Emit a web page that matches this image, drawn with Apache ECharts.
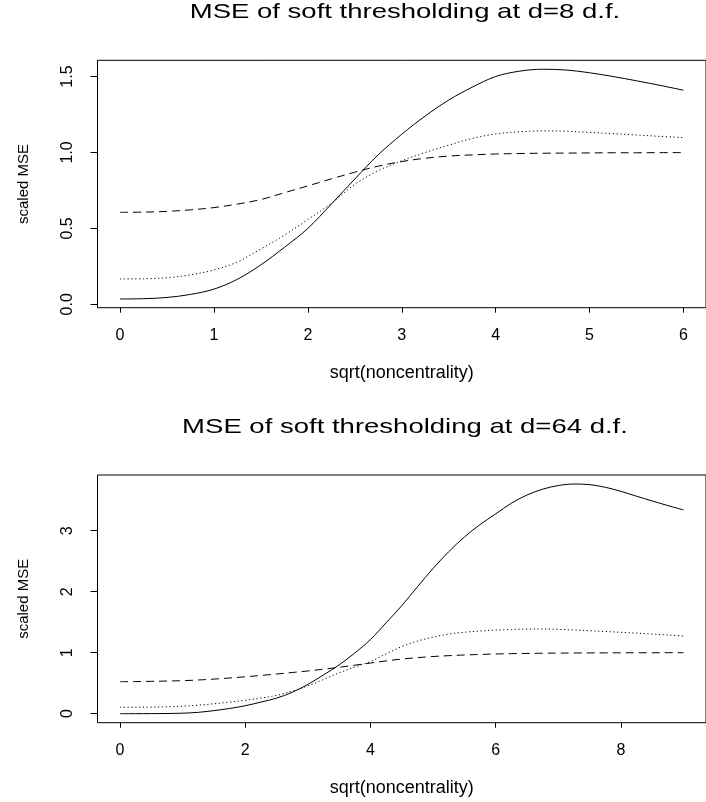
<!DOCTYPE html>
<html>
<head>
<meta charset="utf-8">
<script src="https://cdn.jsdelivr.net/npm/echarts@6/dist/echarts.min.js"></script>
<style>
  html, body { margin: 0; padding: 0; background: #fff; }
  #main { width: 706px; height: 802px; }
</style>
</head>
<body>
<div id="main"></div>
<script>
// top panel, d = 8
const topX = [0, 0.25, 0.5, 0.75, 1, 1.25, 1.5, 1.75, 2, 2.25, 2.5, 2.75, 3, 3.25, 3.5, 3.75, 4, 4.25, 4.5, 4.75, 5, 5.25, 5.5, 5.75, 6]
const topSolid = [0.035, 0.037, 0.045, 0.065, 0.100, 0.165, 0.260, 0.375, 0.500, 0.660, 0.825, 0.985, 1.120, 1.240, 1.345, 1.430, 1.500, 1.535, 1.548, 1.543, 1.525, 1.500, 1.472, 1.442, 1.410]
const topDotted = [0.167, 0.168, 0.175, 0.194, 0.226, 0.279, 0.365, 0.455, 0.558, 0.665, 0.790, 0.880, 0.945, 1.000, 1.048, 1.092, 1.122, 1.136, 1.142, 1.140, 1.132, 1.124, 1.115, 1.106, 1.098]
const topDashed = [0.606, 0.607, 0.612, 0.622, 0.637, 0.660, 0.690, 0.735, 0.780, 0.826, 0.870, 0.910, 0.940, 0.962, 0.976, 0.984, 0.990, 0.993, 0.995, 0.996, 0.997, 0.998, 0.998, 0.999, 0.999]
const topXTicks = [0, 1, 2, 3, 4, 5, 6]
const topYTicks = [0, 0.5, 1, 1.5]

// bottom panel, d = 64
const botX = [0, 0.25, 0.5, 0.75, 1, 1.25, 1.5, 1.75, 2, 2.25, 2.5, 2.75, 3, 3.25, 3.5, 3.75, 4, 4.25, 4.5, 4.75, 5, 5.25, 5.5, 5.75, 6, 6.25, 6.5, 6.75, 7, 7.25, 7.5, 7.75, 8, 8.25, 8.5, 8.75, 9]
const botSolid = [0.000, 0.000, 0.001, 0.003, 0.008, 0.022, 0.050, 0.085, 0.130, 0.190, 0.255, 0.350, 0.480, 0.635, 0.800, 0.995, 1.215, 1.490, 1.770, 2.080, 2.380, 2.655, 2.895, 3.100, 3.275, 3.450, 3.585, 3.680, 3.740, 3.765, 3.755, 3.712, 3.645, 3.565, 3.487, 3.412, 3.340]
const botDotted = [0.105, 0.106, 0.108, 0.113, 0.122, 0.140, 0.162, 0.190, 0.220, 0.255, 0.300, 0.370, 0.455, 0.560, 0.670, 0.765, 0.855, 0.980, 1.100, 1.190, 1.255, 1.305, 1.335, 1.355, 1.370, 1.380, 1.387, 1.388, 1.382, 1.372, 1.360, 1.347, 1.334, 1.320, 1.305, 1.290, 1.274]
const botDashed = [0.525, 0.526, 0.530, 0.535, 0.541, 0.552, 0.567, 0.585, 0.605, 0.627, 0.650, 0.675, 0.700, 0.730, 0.760, 0.795, 0.830, 0.865, 0.895, 0.918, 0.937, 0.951, 0.962, 0.971, 0.979, 0.984, 0.988, 0.991, 0.993, 0.995, 0.996, 0.997, 0.998, 0.999, 0.999, 1.000, 1.000]
const botXTicks = [0, 2, 4, 6, 8]
const botYTicks = [0, 1, 2, 3]

const titles = ['MSE of soft thresholding at d=8 d.f.', 'MSE of soft thresholding at d=64 d.f.']
const xName = 'sqrt(noncentrality)'
const yName = 'scaled MSE'

const FONT = '"Liberation Sans", Arial, Helvetica, sans-serif'

const zip = (xs, ys) => xs.map((x, i) => [x, ys[i]])

function xAxis(idx, min, max, ticks) {
  return {
    type: 'value', gridIndex: idx, min: min, max: max,
    axisLine: { show: false, onZero: false },
    splitLine: { show: false },
    axisTick: { show: true, customValues: ticks, length: 5, lineStyle: { color: '#000' } },
    axisLabel: { customValues: ticks, margin: 20, color: '#000', fontSize: 16, fontFamily: FONT },
    name: xName, nameLocation: 'middle', nameGap: 56,
    nameTextStyle: { color: '#000', fontSize: 18, fontFamily: FONT }
  }
}

function yAxis(idx, min, max, ticks, fmt) {
  return {
    type: 'value', gridIndex: idx, min: min, max: max,
    axisLine: { show: false, onZero: false },
    splitLine: { show: false },
    axisTick: { show: true, customValues: ticks, length: 7, lineStyle: { color: '#000' } },
    axisLabel: { customValues: ticks, rotate: 90, margin: 22, color: '#000', fontSize: 16, fontFamily: FONT, formatter: fmt },
    name: yName, nameLocation: 'middle', nameGap: 66,
    nameTextStyle: { color: '#000', fontSize: 15, fontFamily: FONT }
  }
}

function line(idx, xs, ys, type) {
  return {
    type: 'line', xAxisIndex: idx, yAxisIndex: idx,
    data: zip(xs, ys), showSymbol: false, smooth: 0.35,
    lineStyle: { color: '#000', width: 1, type: type }
  }
}

const myChart = echarts.init(document.getElementById('main'))

myChart.setOption({
  animation: false,
  backgroundColor: '#fff',
  graphic: titles.map((t, i) => ({
    type: 'text', x: 405, y: 12.5 + i * 414.7, scaleX: 1.31,
    style: { text: t, font: '21px ' + FONT, fill: '#000', align: 'center', verticalAlign: 'middle' }
  })),
  grid: [
    { left: 97.5, top: 60.3, height: 247.4, right: -7, show: true, borderColor: '#000', borderWidth: 1, backgroundColor: 'transparent' },
    { left: 97.5, top: 475, height: 247.7, right: -7, show: true, borderColor: '#000', borderWidth: 1, backgroundColor: 'transparent' }
  ],
  xAxis: [
    xAxis(0, -0.24, 6.24, topXTicks),
    xAxis(1, -0.36, 9.36, botXTicks)
  ],
  yAxis: [
    yAxis(0, -0.0224, 1.607, topYTicks, v => v.toFixed(1)),
    yAxis(1, -0.148, 3.913, botYTicks, v => String(v))
  ],
  series: [
    line(0, topX, topSolid, 'solid'),
    line(0, topX, topDotted, [1.2, 2.6]),
    line(0, topX, topDashed, [8, 5]),
    line(1, botX, botSolid, 'solid'),
    line(1, botX, botDotted, [1.2, 2.6]),
    line(1, botX, botDashed, [8, 5])
  ]
})
</script>
</body>
</html>
